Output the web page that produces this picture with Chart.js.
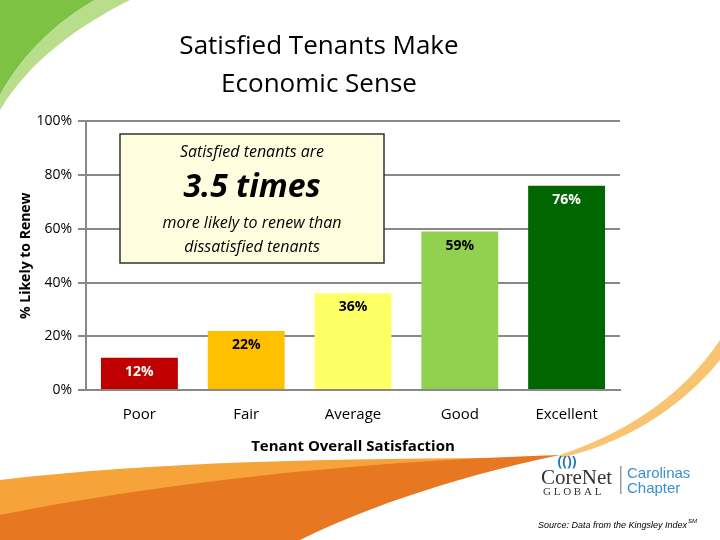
<!DOCTYPE html>
<html><head><meta charset="utf-8">
<script src="https://cdn.jsdelivr.net/npm/chart.js@4"></script>
<style>html,body{margin:0;padding:0;background:#fff}#w{width:720px;height:540px}</style>
</head><body><div id="w"><canvas id="c" width="720" height="540"></canvas></div>
<script>
const categories=["Poor","Fair","Average","Good","Excellent"];
const values=[12,22,36,59,76];
const barColors=["#C00000","#FFC000","#FFFF66","#92D050","#006600"];
const labelColors=["#fff","#000","#000","#000","#fff"];
const yTicks=[0,20,40,60,80,100];
const F="'Open Sans', 'Liberation Sans', sans-serif";

const deco={id:'deco',
beforeDraw(ch){const x=ch.ctx;x.save();
 x.fillStyle='#7DC242';x.beginPath();x.moveTo(0,0);x.lineTo(95,0);x.bezierCurveTo(60,20,25,50,0,95);x.closePath();x.fill();
 x.fillStyle='#B9DE8B';x.beginPath();x.moveTo(95,0);x.lineTo(130,0);x.bezierCurveTo(80,25,30,60,0,110);x.lineTo(0,95);x.bezierCurveTo(25,50,60,20,95,0);x.fill();
 x.fillStyle='#F6A33A';x.beginPath();x.moveTo(0,480);x.bezierCurveTo(150,462,330,458,540,458);x.bezierCurveTo(420,480,320,515,260,540);x.lineTo(0,540);x.closePath();x.fill();
 x.fillStyle='#E87722';x.beginPath();x.moveTo(0,515);x.bezierCurveTo(150,485,340,462,560,455);x.bezierCurveTo(440,480,350,515,300,540);x.lineTo(0,540);x.closePath();x.fill();
 x.fillStyle='#F8C471';x.beginPath();x.moveTo(560,455);x.bezierCurveTo(620,435,680,400,720,340);x.lineTo(720,360);x.bezierCurveTo(680,410,620,445,560,458);x.fill();
 x.restore();},
afterDraw(ch){const x=ch.ctx;x.save();
 const xs=ch.scales.x, ys=ch.scales.y;
 x.font="bold 14px "+F;x.textAlign='center';x.textBaseline='middle';
 values.forEach((v,i)=>{x.fillStyle=labelColors[i];x.fillText(v+'%',xs.getPixelForValue(i),ys.getPixelForValue(v)+14);});
 x.fillStyle='#FFFFE0';x.strokeStyle='#333';x.lineWidth=1.5;x.fillRect(120,134,264,129);x.strokeRect(120,134,264,129);
 x.fillStyle='#000';x.font="italic 16px "+F;x.fillText('Satisfied tenants are',252,152);
 x.font="italic bold 32px "+F;x.fillText('3.5 times',252,188);
 x.font="italic 16px "+F;x.fillText('more likely to renew than',252,223);x.fillText('dissatisfied tenants',252,247);
 x.fillStyle='#1B75BB';x.font="bold 14px "+F;x.fillText('(())',567,462);
 x.fillStyle='#333';x.font="21px 'Liberation Serif', serif";x.textAlign='left';x.fillText('CoreNet',541,478);
 x.font="11px 'Liberation Serif', serif";x.fillText('G L O B A L',543,492);
 x.fillStyle='#999';x.fillRect(620,466,1.5,28);
 x.fillStyle='#3B8FD0';x.font="15px 'Liberation Sans Narrow', 'Liberation Sans', sans-serif";x.fillText('Carolinas',627,474);x.fillText('Chapter',627,489);
 x.fillStyle='#000';x.font="italic 9px 'Liberation Sans', sans-serif";const s='Source: Data from the Kingsley Index';x.fillText(s,538,525);
 const w=x.measureText(s).width;x.font="italic 6px 'Liberation Sans', sans-serif";x.fillText('SM',538+w+1,521);
 x.restore();}};

new Chart(document.getElementById('c'),{type:'bar',
data:{labels:categories,datasets:[{data:values,backgroundColor:barColors,categoryPercentage:0.72,barPercentage:1}]},
options:{responsive:false,animation:false,devicePixelRatio:1,
layout:{padding:{left:18,right:100,top:18,bottom:80}},
plugins:{legend:{display:false},tooltip:{enabled:false},
 title:{display:true,text:['Satisfied Tenants Make','Economic Sense'],color:'#000',font:{family:F,size:26,weight:'normal',lineHeight:1.45},padding:{top:10,bottom:18}}},
scales:{
 x:{grid:{display:false},border:{color:'#888',width:2},ticks:{color:'#000',font:{family:F,size:15},padding:8},
  title:{display:true,text:'Tenant Overall Satisfaction',color:'#000',font:{family:F,size:15,weight:'bold'},padding:{top:6}}},
 y:{min:0,max:100,afterBuildTicks(a){a.ticks=yTicks.map(v=>({value:v}));},
  grid:{color:'#888',lineWidth:2,tickLength:8},border:{color:'#888',width:2},
  ticks:{color:'#000',font:{family:F,size:14},callback:v=>v+'%',padding:6},
  title:{display:true,text:'% Likely to Renew',color:'#000',font:{family:F,size:14,weight:'bold'},padding:{top:0,bottom:0}},
  afterFit(a){a.width=68;}}}},
plugins:[deco]});
</script></body></html>
